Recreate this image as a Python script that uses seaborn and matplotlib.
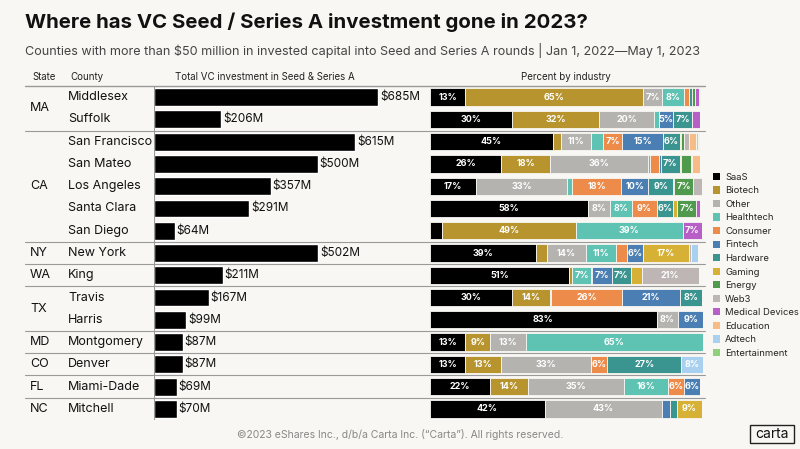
import numpy as np
import pandas as pd
import matplotlib
matplotlib.use("Agg")
import matplotlib.pyplot as plt
import seaborn as sns
from matplotlib.transforms import blended_transform_factory
from matplotlib.patches import Patch, Rectangle

states = ["MA", "MA", "CA", "CA", "CA", "CA", "CA", "NY", "WA", "TX", "TX", "MD", "CO", "FL", "NC"]
counties = ["Middlesex", "Suffolk", "San Francisco", "San Mateo", "Los Angeles", "Santa Clara",
            "San Diego", "New York", "King", "Travis", "Harris", "Montgomery", "Denver",
            "Miami-Dade", "Mitchell"]
totals = [685, 206, 615, 500, 357, 291, 64, 502, 211, 167, 99, 87, 87, 69, 70]

industries = ["SaaS", "Biotech", "Other", "Healthtech", "Consumer", "Fintech", "Hardware",
              "Gaming", "Energy", "Web3", "Medical Devices", "Education", "Adtech", "Entertainment"]
colors = ["#000000", "#b7942e", "#b5b3b0", "#5ec3b2", "#ec8b4a", "#4b7fb3", "#3a9490",
          "#d6b135", "#4f9a4c", "#bdb6b4", "#b85ec7", "#f7bb85", "#a9d0ee", "#8fd07a"]

# percent by industry, columns follow `industries`
pct = [
    [13, 65, 7, 8, 2, 0, 1, 0, 1, 0, 1.5, 0, 0, 0.5],
    [30, 32, 20, 2, 0, 5, 7, 0, 0, 0, 3, 0, 0, 0],
    [45, 3, 11, 4.5, 7, 15, 6, 0.5, 1, 2, 0, 2.5, 0.5, 0.5],
    [26, 18, 36, 0.5, 3.5, 0.5, 7, 0.5, 3.5, 0.5, 0, 3, 0, 0],
    [17, 0, 33, 2, 18, 10, 9, 0.5, 7, 3, 0, 0, 0, 0],
    [58, 0, 8, 8, 9, 0, 6, 1.5, 7, 0, 1.5, 0, 0, 0],
    [4.5, 49, 0, 39, 0, 0, 0, 0, 0, 0, 7, 0, 0, 0],
    [39, 4, 14, 11, 4, 6, 0, 17, 0, 0.5, 0, 0, 2.5, 0],
    [51, 1, 0, 7, 0.5, 7, 7, 4, 0, 21, 0, 0, 0, 0],
    [30, 14, 0, 0.5, 26, 21, 8, 0, 0, 0, 0, 0, 0, 0],
    [83, 0, 8, 0, 0, 9, 0, 0, 0, 0, 0, 0, 0, 0],
    [13, 9, 13, 65, 0, 0, 0, 0, 0, 0, 0, 0, 0, 0],
    [13, 13, 33, 0, 6, 0, 27, 0, 0, 0, 0, 0, 8, 0],
    [22, 14, 35, 16, 6, 6, 0, 0, 0, 0, 0, 0, 0, 0],
    [42, 0, 43, 0, 0, 3, 2.5, 9, 0, 0, 0, 0, 0, 0],
]

bg = "#f9f7f3"
sns.set_theme(style="white")
plt.rcParams["font.family"] = ["Inter", "DejaVu Sans"]

W, H = 800, 449
fig = plt.figure(figsize=(8, 4.49), dpi=100, facecolor=bg)
top_px, bot_px = 86, 420
ax1 = fig.add_axes([154 / W, 1 - bot_px / H, 266 / W, (bot_px - top_px) / H])
ax2 = fig.add_axes([430 / W, 1 - bot_px / H, 273 / W, (bot_px - top_px) / H])
n = len(counties)
for ax in (ax1, ax2):
    ax.set_facecolor("none")
    ax.set_ylim(n - 0.5, -0.5)
    ax.set_xticks([]); ax.set_yticks([])
    for s in ax.spines.values():
        s.set_visible(False)
    ax.set_xlabel(""); ax.set_ylabel("")

df = pd.DataFrame({"county": counties, "total": totals})
sns.barplot(data=df, y="county", x="total", color="black", orient="h", width=0.8,
            saturation=1, ax=ax1)
ax1.set_xlim(0, 812)
ax1.set_ylim(n - 0.5, -0.5)
ax1.set_xlabel(""); ax1.set_ylabel(""); ax1.set_yticks([]); ax1.set_xticks([])
for i, v in enumerate(totals):
    ax1.text(v + 5, i, f"${v}M", va="center", ha="left", fontsize=8.5, color="#111")
ax1.axvline(0, color="#999", lw=0.8)

P = np.array(pct, dtype=float)
left = np.zeros(n)
for j, ind in enumerate(industries):
    vals = P[:, j]
    ax2.barh(np.arange(n), vals, left=left, height=0.78, color=colors[j],
             edgecolor=bg, linewidth=0.6)
    for i, v in enumerate(vals):
        if v >= 5:
            ax2.text(left[i] + v / 2, i, f"{int(round(v))}%", ha="center", va="center",
                     fontsize=6.5, color="white", fontweight="bold")
    left += vals
ax2.set_xlim(0, 100)

tr = blended_transform_factory(fig.transFigure, ax1.transData)
for yb in [-0.5, 1.5, 6.5, 7.5, 8.5, 10.5, 11.5, 12.5, 13.5]:
    lw = 1.0 if yb == -0.5 else 0.8
    ax1.plot([25 / W, 705 / W], [yb, yb], transform=tr, color="#9a9a9a", lw=lw, clip_on=False)

groups = [("MA", 0.5), ("CA", 4), ("NY", 7), ("WA", 8), ("TX", 9.5), ("MD", 11),
          ("CO", 12), ("FL", 13), ("NC", 14)]
for st, y in groups:
    ax1.text(30 / W, y, st, transform=tr, fontsize=9, va="center", ha="left", color="#111")
for i, c in enumerate(counties):
    ax1.text(68 / W, i, c, transform=tr, fontsize=9, va="center", ha="left", color="#111")

hy = 1 - 77 / H
fig.text(32 / W, hy, "State", fontsize=7, va="center", color="#222")
fig.text(70 / W, hy, "County", fontsize=7, va="center", color="#222")
fig.text(265 / W, hy, "Total VC investment in Seed & Series A", fontsize=7, va="center",
         ha="center", color="#222")
fig.text(566 / W, hy, "Percent by industry", fontsize=7, va="center", ha="center", color="#222")

fig.text(25 / W, 1 - 22 / H, "Where has VC Seed / Series A investment gone in 2023?",
         fontsize=14.7, fontweight="bold", va="center", color="#111")
fig.text(25 / W, 1 - 50 / H,
         "Counties with more than $50 million in invested capital into Seed and Series A rounds | Jan 1, 2022\u2014May 1, 2023",
         fontsize=9.1, va="center", color="#444")
fig.text(400 / W, 1 - 435 / H, "\u00a92023 eShares Inc., d/b/a Carta Inc. (\u201cCarta\u201d). All rights reserved.",
         fontsize=7.5, va="center", ha="center", color="#888")
fig.patches.append(Rectangle((750 / W, 1 - 443 / H), 44 / W, 18 / H, transform=fig.transFigure,
                             fill=False, edgecolor="#222", lw=1))
fig.text(772 / W, 1 - 434 / H, "carta", fontsize=10, va="center", ha="center", color="#111")

handles = [Patch(facecolor=c, edgecolor="none", label=l) for c, l in zip(colors, industries)]
fig.legend(handles=handles, loc="upper left", bbox_to_anchor=(709 / W, 1 - 169 / H),
           frameon=False, fontsize=6.8, handlelength=0.8, handleheight=0.8,
           handletextpad=0.5, labelspacing=0.48, borderaxespad=0)

fig.savefig("out.png", dpi=100, facecolor=bg)
